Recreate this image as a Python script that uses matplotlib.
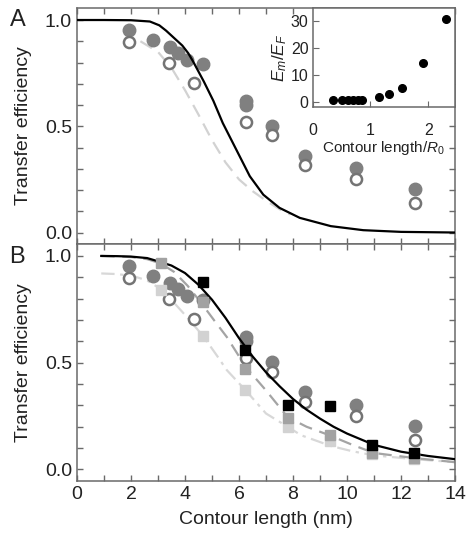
import matplotlib
matplotlib.use("Agg")
import matplotlib.pyplot as plt
from matplotlib.ticker import MultipleLocator

plt.rcParams['font.family'] = ['Liberation Sans', 'DejaVu Sans']
plt.rcParams['mathtext.fontset'] = 'custom'
plt.rcParams['mathtext.rm'] = 'Liberation Sans'
plt.rcParams['mathtext.it'] = 'Liberation Sans:italic'

# measured transfer efficiencies (same in both panels)
filled_x = [1.93, 2.8, 3.44, 3.75, 4.06, 4.68, 6.26, 6.26, 7.21, 8.46, 10.32, 12.53]
filled_e = [0.955, 0.905, 0.873, 0.845, 0.812, 0.795, 0.618, 0.600, 0.503, 0.362, 0.303, 0.203]
open_x = [1.93, 3.40, 4.33, 6.26, 7.21, 8.46, 10.32, 12.53]
open_e = [0.895, 0.798, 0.705, 0.52, 0.457, 0.318, 0.25, 0.14]

# panel A curves
fitA_x = [0, 1.0, 2.0, 2.7, 3.05, 3.3, 3.6, 3.9, 4.12, 4.3, 4.7, 5.05, 5.4, 5.9, 6.4,
          6.9, 7.5, 8.25, 9.4, 10.6, 12.0, 14.0]
fitA_e = [1.0, 1.0, 0.999, 0.993, 0.975, 0.95, 0.915, 0.88, 0.844, 0.805, 0.71, 0.62,
          0.515, 0.39, 0.265, 0.178, 0.116, 0.069, 0.03, 0.011, 0.003, 0.0]
dashA_x = [2.35, 3.0, 3.5, 4.0, 4.5, 5.0, 5.5, 6.0, 6.5, 7.0, 7.5, 7.9]
dashA_e = [0.9, 0.85, 0.775, 0.67, 0.555, 0.435, 0.33, 0.25, 0.195, 0.15, 0.11, 0.085]

# panel B curves
fitB_x = [0.9, 1.5, 2.0, 2.6, 3.0, 3.5, 4.0, 4.5, 5.0, 5.5, 6.0, 6.5, 7.0, 7.5, 8.0,
          8.5, 9.0, 9.5, 10.0, 11.0, 12.0, 13.0, 14.0]
fitB_e = [1.0, 0.999, 0.997, 0.99, 0.975, 0.955, 0.92, 0.865, 0.795, 0.71, 0.615, 0.53,
          0.455, 0.39, 0.33, 0.28, 0.238, 0.2, 0.168, 0.115, 0.083, 0.063, 0.048]
dashB_x = [0.9, 2.0, 2.6, 3.1, 3.6, 4.1, 4.6, 5.1, 5.55, 6.25, 7.0, 7.8, 8.5, 9.35,
           10.2, 11.0, 12.5, 14.0]
dashB_e = [1.0, 0.995, 0.985, 0.965, 0.925, 0.86, 0.78, 0.695, 0.62, 0.48, 0.37, 0.245,
           0.2, 0.16, 0.115, 0.077, 0.053, 0.034]
dotB_x = [0.9, 1.5, 2.1, 2.6, 3.1, 3.6, 4.1, 4.7, 5.2, 5.55, 6.25, 7.0, 7.8, 8.3, 9.4,
          10.2, 11.0, 12.5, 14.0]
dotB_e = [0.918, 0.915, 0.905, 0.885, 0.845, 0.78, 0.71, 0.62, 0.53, 0.465, 0.37, 0.262,
          0.2, 0.16, 0.11, 0.085, 0.066, 0.048, 0.034]

sq_x = [3.12, 4.68, 6.24, 7.8, 9.36, 10.92, 12.48]
black_sq_x = [4.68, 6.24, 7.8, 9.36, 10.92, 12.48]
black_sq_e = [0.88, 0.56, 0.30, 0.295, 0.113, 0.075]
gray_sq_e = [0.968, 0.785, 0.47, 0.243, 0.16, 0.075, 0.055]
light_sq_e = [0.84, 0.625, 0.37, 0.2, 0.135, 0.07, 0.05]

# inset: ratio of measured to expected efficiency vs contour length / R0
inset_x = [0.345, 0.517, 0.614, 0.69, 0.776, 0.862, 1.148, 1.321, 1.552, 1.9, 2.3]
inset_y = [1.0, 1.0, 1.0, 1.0, 1.0, 1.0, 2.0, 3.0, 5.4, 14.6, 30.8]

spine_c = '#6a6a6a'
text_c = '#222222'
filled_c = '#808080'
open_c = '#747474'

fig = plt.figure(figsize=(4.75, 5.41), dpi=100)
axA = fig.add_axes([0.162, 0.549, 0.796, 0.436])
axB = fig.add_axes([0.162, 0.111, 0.796, 0.438])


def style(ax):
    ax.set_xlim(0, 14)
    ax.set_ylim(-0.054, 1.056)
    ax.xaxis.set_major_locator(MultipleLocator(2))
    ax.xaxis.set_minor_locator(MultipleLocator(1))
    ax.yaxis.set_major_locator(MultipleLocator(0.5))
    ax.yaxis.set_minor_locator(MultipleLocator(0.1))
    ax.tick_params(which='both', direction='in', top=True, right=True,
                   color=spine_c, width=1, labelsize=14, labelcolor=text_c)
    ax.tick_params(which='major', length=4.5)
    ax.tick_params(which='minor', length=4)
    for s in ax.spines.values():
        s.set_color(spine_c)
        s.set_linewidth(1.1)
    ax.set_ylabel('Transfer efficiency', fontsize=14, color=text_c, labelpad=9)
    ax.set_yticks([0, 0.5, 1.0])
    ax.set_yticklabels(['0.0', '0.5', '1.0'])


def circles(ax):
    ax.plot(filled_x, filled_e, 'o', color=filled_c, ms=9, mec=filled_c, zorder=3)
    ax.plot(open_x, open_e, 'o', mfc='white', mec=open_c, mew=1.8, ms=8, zorder=3)


style(axA)
style(axB)
axA.tick_params(labelbottom=False)

axA.plot(dashA_x, dashA_e, color='#d2d2d2', lw=1.6, dashes=(6, 3.5), zorder=2)
circles(axA)
axA.plot(fitA_x, fitA_e, color='black', lw=1.6, zorder=4)

axB.plot(dotB_x, dotB_e, color='#d8d8d8', lw=1.6, dashes=(6, 2.5, 1.5, 2.5), zorder=2)
axB.plot(dashB_x, dashB_e, color='#a4a4a4', lw=1.6, dashes=(6, 3.5), zorder=2)
circles(axB)
axB.plot(fitB_x, fitB_e, color='black', lw=1.6, zorder=4)
axB.plot(sq_x, light_sq_e, 's', color='#d2d2d2', ms=6.5, zorder=5)
axB.plot(sq_x, gray_sq_e, 's', color='#a2a2a2', ms=6.5, zorder=5)
axB.plot(black_sq_x, black_sq_e, 's', color='black', ms=6.5, zorder=6)
axB.set_xlabel('Contour length (nm)', fontsize=14, color=text_c, labelpad=6)

fig.text(0.02, 0.963, 'A', fontsize=17, color=text_c, va='center')
fig.text(0.02, 0.525, 'B', fontsize=17, color=text_c, va='center')

# inset
axI = fig.add_axes([0.658, 0.8017, 0.300, 0.1833])
axI.plot(inset_x, inset_y, 'o', color='black', ms=5.5)
axI.set_xlim(0, 2.46)
axI.set_ylim(-1.8, 34.7)
axI.set_xticks([0, 1, 2])
axI.set_yticks([0, 10, 20, 30])
axI.tick_params(direction='in', length=4, color=spine_c, labelsize=11.5,
                labelcolor=text_c, pad=3)
axI.tick_params(axis='x', pad=11)
for s in axI.spines.values():
    s.set_color(spine_c)
    s.set_linewidth(1.1)
axI.set_xlabel('Contour length/$R_{\\mathrm{0}}$', fontsize=11, color=text_c, labelpad=1)
axI.set_ylabel('$E_m/E_F$', fontsize=12.5, color=text_c, labelpad=1)

fig.savefig('out.png', dpi=100)
